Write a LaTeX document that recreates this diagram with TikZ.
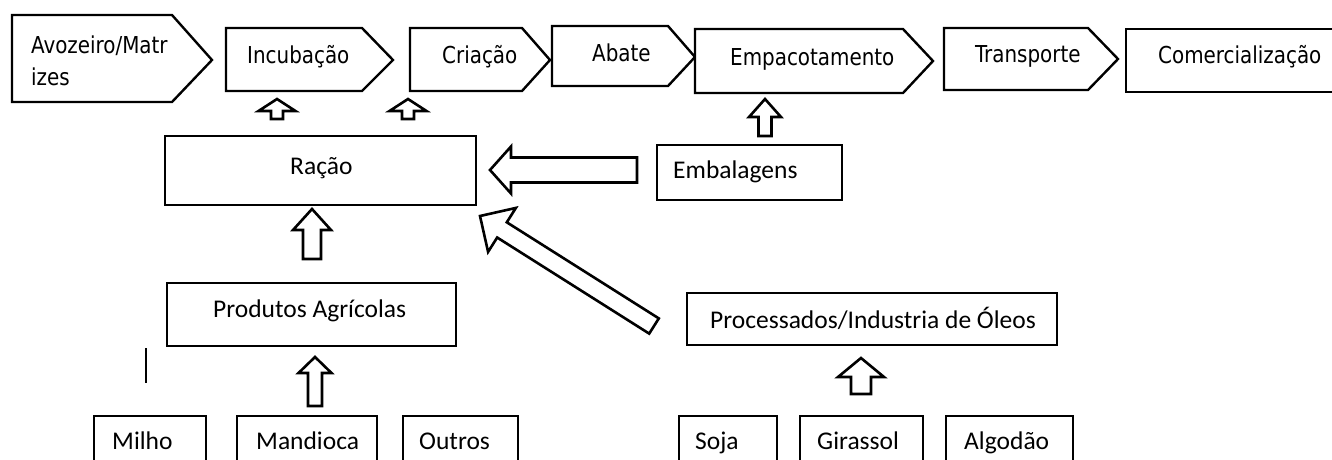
\documentclass[tikz,border=0pt]{standalone}
\usepackage{fontspec}
\setmainfont{Carlito}
\newfontfamily\tah[FakeStretch=0.95]{DejaVu Sans Condensed}
\usetikzlibrary{calc}
\tikzset{
  chev/.style={draw=black, line width=2.4pt, line join=miter, fill=white},
  thinbox/.style={draw=black, line width=1.4pt, inner sep=0pt},
  thickbox/.style={draw=black, line width=2.4pt, inner sep=0pt},
  toplbl/.style={font=\tah\fontsize{23.3}{27}\selectfont, inner sep=0pt, anchor=base west},
  lbl/.style={font=\fontsize{25.5}{30}\selectfont, inner sep=0pt, anchor=base west},
  blk/.style={draw=black, line width=2.6pt, fill=white, line join=miter},
}
\newcommand\rbox[6]{\node[#1, minimum width={(#5-#3)*1pt}, minimum height={(#6-#4)*1pt}] (#2) at ({(#3+#5)/2},{(#4+#6)/2}) {};}
\newcommand\barrow[5]{%
  \draw[blk] let \p1=($(#2)-(#1)$), \n1={atan2(\y1,\x1)}, \n2={veclen(\x1,\y1)} in
    [shift={(#1)}, rotate=\n1]
    (0pt,{-#3*1pt}) -- ({(\n2-#5)*1pt},{-#3*1pt}) -- ({(\n2-#5)*1pt},{-#4*1pt})
    -- ({\n2*1pt},0pt) -- ({(\n2-#5)*1pt},{#4*1pt}) -- ({(\n2-#5)*1pt},{#3*1pt})
    -- (0pt,{#3*1pt}) -- cycle;}
\begin{document}
\begin{tikzpicture}[x=1pt, y=-1pt]
\useasboundingbox (0,0) rectangle (1332,459);
\clip (0,0) rectangle (1332,459);
% top chevrons
\draw[chev] (12,15) coordinate (avoA) -- (172,15) -- (212,60) coordinate (avoTip) -- (172,102) -- (12,102) -- cycle;
\draw[chev] (226,28) coordinate (incA) -- (362,28) -- (393,60) coordinate (incTip) -- (362,91) -- (226,91) -- cycle;
\draw[chev] (410,28) coordinate (criA) -- (522,28) -- (550,60) coordinate (criTip) -- (522,91) -- (410,91) -- cycle;
\draw[chev] (552,26) coordinate (abaA) -- (668,26) -- (695,57) coordinate (abaTip) -- (668,86) -- (552,86) -- cycle;
\draw[chev] (695,29) coordinate (empA) -- (903,29) -- (933,61) coordinate (empTip) -- (903,93) -- (695,93) -- cycle;
\draw[chev] (944,28) coordinate (traA) -- (1088,28) -- (1118,59) coordinate (traTip) -- (1088,90) -- (944,90) -- cycle;
\rbox{thickbox}{com}{1126}{29}{1345}{92}
\node[toplbl] (avoT1) at (31,53) {Avozeiro/Matr};
\node[toplbl] (avoT2) at (31,85) {izes};
\node[toplbl] (incT) at (247,63) {Incubação};
\node[toplbl] (criT) at (442,63) {Criação};
\node[toplbl] (abaT) at (592,61) {Abate};
\node[toplbl] (empT) at (730,65) {Empacotamento};
\node[toplbl] (traT) at (975,62) {Transporte};
\node[toplbl] (comT) at (1158,63) {Comercialização};
% middle boxes
\rbox{thickbox}{racao}{165}{136}{476}{205}
\rbox{thinbox}{emb}{657}{145}{842}{200}
\rbox{thinbox}{prod}{167}{283}{456}{346}
\rbox{thinbox}{proc}{687}{293}{1057}{345}
\node[lbl] (racaoT) at (290,174) {Ração};
\node[lbl] (embT) at (673,178) {Embalagens};
\node[lbl] (prodT) at (213,317) {Produtos Agrícolas};
\node[lbl] (procT) at (710,328) {Processados/Industria de Óleos};
% bottom boxes
\rbox{thinbox}{milho}{94}{416}{206}{475}
\rbox{thinbox}{mand}{237}{416}{377}{475}
\rbox{thinbox}{outros}{403}{416}{518}{475}
\rbox{thinbox}{soja}{679}{416}{777}{475}
\rbox{thinbox}{gira}{800}{416}{923}{475}
\rbox{thinbox}{algo}{946}{416}{1073}{475}
\node[lbl] (milhoT) at (112,449) {Milho};
\node[lbl] (mandT) at (256,449) {Mandioca};
\node[lbl] (outrosT) at (419,449) {Outros};
\node[lbl] (sojaT) at (695,449) {Soja};
\node[lbl] (giraT) at (817,449) {Girassol};
\node[lbl] (algoT) at (964,449) {Algodão};
% stray line
\coordinate (ln1) at (146,348);
\coordinate (ln2) at (146,383);
\draw[line width=1.2pt] (ln1) -- (ln2);
% block arrows
\coordinate (a1t) at (277,119); \coordinate (a1h) at (277,99);
\coordinate (a2t) at (408,119); \coordinate (a2h) at (408,99);
\coordinate (a3t) at (765,136); \coordinate (a3h) at (765,99);
\coordinate (a4t) at (637,170); \coordinate (a4h) at (490,170);
\coordinate (a5t) at (654,326); \coordinate (a5h) at (480,216);
\coordinate (a6t) at (312,259); \coordinate (a6h) at (312,209);
\coordinate (a7t) at (315,406); \coordinate (a7h) at (315,357);
\coordinate (a8t) at (861,394); \coordinate (a8h) at (861,358);
\barrow{a1t}{a1h}{6}{18.5}{12}
\barrow{a2t}{a2h}{6}{18.5}{12}
\barrow{a3t}{a3h}{6.5}{16}{18}
\barrow{a4t}{a4h}{12.5}{23.5}{21}
\barrow{a5t}{a5h}{9}{26}{26}
\barrow{a6t}{a6h}{9}{19}{21}
\barrow{a7t}{a7h}{7}{16.5}{16}
\barrow{a8t}{a8h}{10}{23}{19}
\end{tikzpicture}
\end{document}
